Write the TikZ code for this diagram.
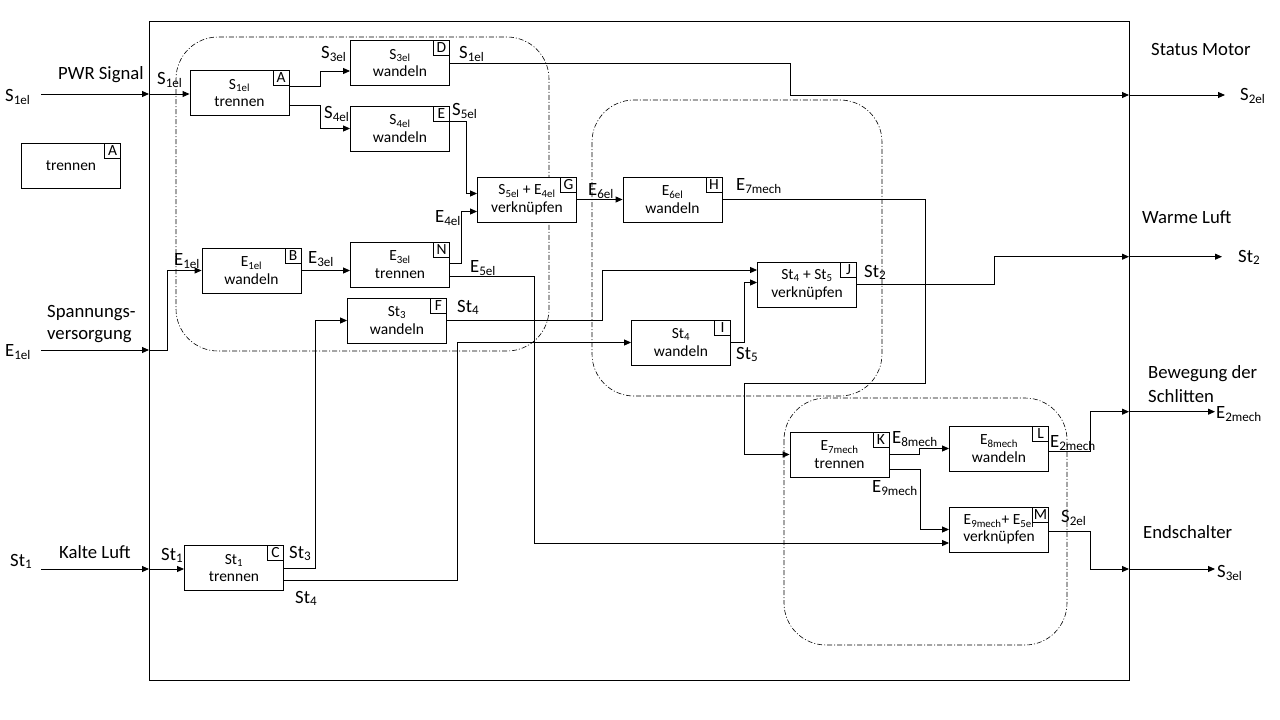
\documentclass[tikz,border=0pt]{standalone}
\usepackage{fontspec}
\setmainfont{Carlito}
\usetikzlibrary{arrows.meta}
\newcommand\sbs[1]{\textsubscript{#1}}
\begin{document}
\begin{tikzpicture}[x=1pt,y=-1pt,
  fbox/.style={draw, fill=white, line width=0.9pt, minimum width=99pt, minimum height=45pt, align=center, inner sep=1pt, font=\fontsize{15.5}{17.5}\selectfont},
  lett/.style={draw, fill=white, line width=0.9pt, minimum width=16pt, minimum height=15pt, inner sep=0pt, anchor=north east, font=\fontsize{15.5}{17}\selectfont},
  lab/.style={inner sep=0pt, anchor=base west, font=\fontsize{18.7}{22}\selectfont},
  conn/.style={line width=0.9pt, -{Triangle[length=7pt,width=6pt]}},
  grp/.style={line width=0.6pt, dash pattern=on 5pt off 2pt on 1pt off 2pt, rounded corners=42pt}]
\useasboundingbox (0,0) rectangle (1280,720);
% frame
\draw[line width=1pt] (149,21) rectangle (1129,680);
% groups
\draw[grp] (176,37) rectangle (549,351);
\draw[grp] (592,100) rectangle (882,396);
\draw[grp] (784,398) rectangle (1067,645);
% boxes
\node[fbox] (A) at (239.5,93) {S\sbs{1el}\\trennen};
\node[fbox] (D) at (400,63) {S\sbs{3el}\\wandeln};
\node[fbox] (E) at (400,128.5) {S\sbs{4el}\\wandeln};
\node[fbox] (G) at (527,199.5) {S\sbs{5el} + E\sbs{4el}\\verknüpfen};
\node[fbox] (H) at (672.5,199.5) {E\sbs{6el}\\wandeln};
\node[fbox] (B) at (251.5,270.5) {E\sbs{1el}\\wandeln};
\node[fbox] (N) at (400,264.5) {E\sbs{3el}\\trennen};
\node[fbox] (F) at (397,320.5) {St\sbs{3}\\wandeln};
\node[fbox] (I) at (681,342.5) {St\sbs{4}\\wandeln};
\node[fbox] (J) at (807,284.5) {St\sbs{4} + St\sbs{5}\\verknüpfen};
\node[fbox] (C) at (234,568) {St\sbs{1}\\trennen};
\node[fbox] (K) at (839.5,454.5) {E\sbs{7mech}\\trennen};
\node[fbox] (L) at (999,448.5) {E\sbs{8mech}\\wandeln};
\node[fbox] (M) at (999,529.5) {E\sbs{9mech}+ E\sbs{5el}\\verknüpfen};
\node[fbox] (Leg) at (71,166) {trennen};
\foreach \n in {A,B,C,D,E,F,G,H,I,J,K,L,M,N}
  \node[lett] (\n l) at (\n.north east) {\n};
\node[lett] (Legl) at (Leg.north east) {A};
% connectors
\coordinate (s1in) at (41,94); \coordinate (fS1) at (149,94);
\draw[conn] (s1in) -- (fS1);
\draw[conn] (fS1) -- (fS1 -| A.west);
\draw[conn] ([yshift=7pt]A.east) -- ++(31,0) |- ([yshift=-8pt]D.west);
\draw[conn] ([yshift=-12.5pt]A.east) -- ++(31,0) |- (E.west);
\coordinate (fS2) at (1129,95); \coordinate (s2out) at (1225,95);
\draw[conn] (D.east) -- (790.5,63) |- (fS2);
\draw[conn] (fS2) -- (s2out);
\draw[conn] ([yshift=7pt]E.east) -- ++(16,0) |- ([yshift=6pt]G.west);
\draw[conn] ([yshift=1.5pt]N.east) -- ++(11,0) |- ([yshift=-12pt]G.west);
\draw[conn] (G) -- (H);
\draw[conn] (H.east) -| (925,383) -- (744,383) |- (K.west);
\coordinate (e1in) at (41,350); \coordinate (fE1) at (149,350);
\draw[conn] (e1in) -- (fE1);
\draw[conn] (fE1) -- (167,350) |- (B.west);
\draw[conn] (B.east) -- (B.east -| N.west);
\draw[conn] ([yshift=-12pt]N.east) -- (534,276.5) |- ([yshift=-13.5pt]M.west);
\draw[conn] (F.east) -- (602,320.5) |- ([yshift=14.5pt]J.west);
\draw[conn] (I.east) -- (744,342.5) |- ([yshift=2pt]J.west);
\coordinate (fSt2) at (1129,256.7); \coordinate (st2out) at (1222,256.7);
\draw[conn] (J.east) -- (994,284.5) |- (fSt2);
\draw[conn] (fSt2) -- (st2out);
\coordinate (st1in) at (41,569); \coordinate (fSt1) at (149,569);
\draw[conn] (st1in) -- (fSt1);
\draw[conn] (fSt1) -- (fSt1 -| C.west);
\draw[conn] (C.east) -- (315.7,568) |- (F.west);
\draw[conn] ([yshift=-12pt]C.east) -- (457.5,580) |- (I.west);
\draw[conn] (K.east) -- (919,454.5) |- (L.west);
\draw[conn] ([yshift=-14.5pt]K.east) -- (920,469) |- (M.west);
\coordinate (fE2) at (1129,411.7); \coordinate (e2out) at (1215,411.7);
\draw[conn] ([yshift=-2.5pt]L.east) -- (1090,451) |- (fE2);
\draw[conn] (fE2) -- (e2out);
\coordinate (fS3) at (1129,569); \coordinate (s3out) at (1215,569);
\draw[conn] ([yshift=-2pt]M.east) -- (1090,531.5) |- (fS3);
\draw[conn] (fS3) -- (s3out);
% labels
\node[lab] (t1) at (5,101) {S\sbs{1el}};
\node[lab] (t2) at (58,79) {PWR Signal};
\node[lab] (t3) at (157,84) {S\sbs{1el}};
\node[lab] (t4) at (321,58) {S\sbs{3el}};
\node[lab] (t5) at (324,118) {S\sbs{4el}};
\node[lab] (t6) at (459,58) {S\sbs{1el}};
\node[lab] (t7) at (452,115) {S\sbs{5el}};
\node[lab] (t8) at (435,222) {E\sbs{4el}};
\node[lab] (t9) at (174,265) {E\sbs{1el}};
\node[lab] (t10) at (308,263) {E\sbs{3el}};
\node[lab] (t11) at (470,272) {E\sbs{5el}};
\node[lab] (t12) at (457,312) {St\sbs{4}};
\node[lab] (t13) at (47,317) {Spannungs-};
\node[lab] (t14) at (47,339) {versorgung};
\node[lab] (t15) at (5,356) {E\sbs{1el}};
\node[lab] (t16) at (588,195) {E\sbs{6el}};
\node[lab] (t17) at (736,190) {E\sbs{7mech}};
\node[lab] (t18) at (864,277) {St\sbs{2}};
\node[lab] (t19) at (736,359) {St\sbs{5}};
\node[lab] (t20) at (59,558) {Kalte Luft};
\node[lab] (t21) at (10,566) {St\sbs{1}};
\node[lab] (t22) at (161,560) {St\sbs{1}};
\node[lab] (t23) at (289,558) {St\sbs{3}};
\node[lab] (t24) at (295,603) {St\sbs{4}};
\node[lab] (t25) at (1151,55) {Status Motor};
\node[lab] (t26) at (1240,100) {S\sbs{2el}};
\node[lab] (t27) at (1142,223) {Warme Luft};
\node[lab] (t28) at (1238,262) {St\sbs{2}};
\node[lab] (t29) at (1148,378) {Bewegung der};
\node[lab] (t30) at (1148,402) {Schlitten};
\node[lab] (t31) at (1216,418) {E\sbs{2mech}};
\node[lab] (t32) at (1143,538) {Endschalter};
\node[lab] (t33) at (1217,577) {S\sbs{3el}};
\node[lab] (t34) at (892,443) {E\sbs{8mech}};
\node[lab] (t35) at (872,492) {E\sbs{9mech}};
\node[lab] (t36) at (1050,447) {E\sbs{2mech}};
\node[lab] (t37) at (1061,522) {S\sbs{2el}};
\end{tikzpicture}
\end{document}
